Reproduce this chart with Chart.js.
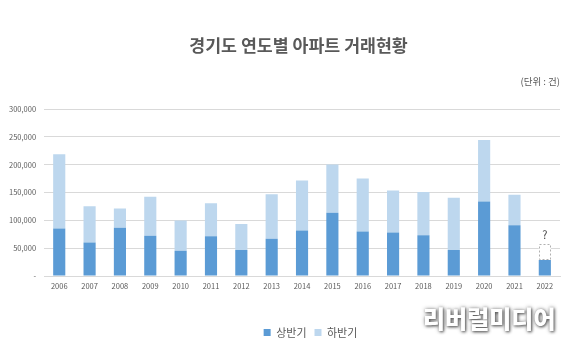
<!DOCTYPE html>
<html>
<head>
<meta charset="utf-8">
<script src="https://cdn.jsdelivr.net/npm/chart.js@4"></script>
<style>
  html, body { margin: 0; padding: 0; background: #fff; }
  #wrap { position: relative; width: 578px; height: 350px; }
  #mark {
    position: absolute; left: 423px; top: 300px;
    font: 900 24px "Noto Sans CJK KR", sans-serif; color: #fff;
    text-shadow: 1px 1px 3px #555, 0 0 4px #999;
  }
</style>
</head>
<body>
<div id="wrap">
  <canvas id="chart" width="578" height="350"></canvas>
  <div id="mark">리버럴미디어</div>
</div>
<script>
const years = ["2006", "2007", "2008", "2009", "2010", "2011", "2012", "2013", "2014",
  "2015", "2016", "2017", "2018", "2019", "2020", "2021", "2022"];
const firstHalf = [85500, 60100, 86700, 72500, 45400, 71300, 46600, 67200, 82000,
  113800, 80200, 78400, 73100, 46600, 133800, 91400, 28900];
const secondHalf = [133200, 65500, 34800, 70200, 54200, 59600, 47100, 79600, 89600,
  86700, 94900, 75500, 77800, 94300, 110900, 54800, 29500];

const FONT = "'Noto Sans CJK KR', 'Liberation Sans', sans-serif";
const last = years.length - 1;

// 2022 하반기 is unknown: dashed outline and a "?" above it
const unknownBar = {
  id: "unknownBar",
  afterLayout(chart) {
    // title and legend sit a bit right of centre in the original
    chart.titleBlock.left += 18;
    chart.titleBlock.right += 18;
    chart.legend.left += 30;
    chart.legend.right += 30;
  },
  afterDatasetsDraw(chart) {
    const bar = chart.getDatasetMeta(1).data[last];
    if (!bar) return;
    const ctx = chart.ctx;
    const w = bar.width;
    ctx.save();
    ctx.strokeStyle = "#b0b0b0";
    ctx.lineWidth = 1;
    ctx.setLineDash([2, 2]);
    ctx.strokeRect(Math.round(bar.x - w / 2) + 0.5, Math.round(bar.y) + 0.5, Math.round(w) - 1, Math.round(bar.base - bar.y) - 1);
    ctx.setLineDash([]);
    ctx.fillStyle = "#404040";
    ctx.font = "11px " + FONT;
    ctx.textAlign = "center";
    ctx.textBaseline = "bottom";
    ctx.fillText("?", bar.x, bar.y - 3);
    ctx.restore();
  }
};

new Chart(document.getElementById("chart"), {
  type: "bar",
  data: {
    labels: years,
    datasets: [
      {
        label: "상반기",
        data: firstHalf,
        backgroundColor: "#5b9bd5",
        barPercentage: 0.4,
        categoryPercentage: 1
      },
      {
        label: "하반기",
        data: secondHalf,
        backgroundColor: secondHalf.map((v, i) => (i === last ? "#ffffff" : "#bdd7ee")),
        barPercentage: 0.4,
        categoryPercentage: 1
      }
    ]
  },
  options: {
    responsive: false,
    animation: false,
    layout: { padding: { left: 1, right: 18, bottom: 2 } },
    plugins: {
      title: {
        display: true,
        text: "경기도 연도별 아파트 거래현황",
        color: "#595959",
        font: { family: FONT, size: 17.3, weight: "600" },
        padding: { top: 35, bottom: 20 }
      },
      subtitle: {
        display: true,
        text: "(단위 : 건)",
        align: "end",
        color: "#595959",
        font: { family: FONT, size: 9.5 },
        padding: { top: 0, bottom: 22 }
      },
      legend: {
        position: "bottom",
        labels: {
          color: "#595959",
          font: { family: FONT, size: 11 },
          usePointStyle: true,
          pointStyle: "rect",
          boxWidth: 7,
          boxHeight: 7,
          padding: 8,
          generateLabels(chart) {
            return chart.data.datasets.map((ds, i) => ({
              text: ds.label,
              fillStyle: i === 0 ? "#5b9bd5" : "#bdd7ee",
              strokeStyle: "transparent",
              lineWidth: 0,
              pointStyle: "rect",
              datasetIndex: i,
              fontColor: "#595959"
            }));
          }
        }
      },
      tooltip: { enabled: false }
    },
    scales: {
      x: {
        stacked: true,
        grid: { display: false, drawTicks: false },
        border: { color: "#d9d9d9" },
        ticks: { color: "#595959", font: { family: FONT, size: 7.5 }, padding: 6, maxRotation: 0 },
        afterFit(scale) {
          scale.height += 22;
        }
      },
      y: {
        stacked: true,
        min: 0,
        max: 300000,
        grid: { color: "#d9d9d9", drawTicks: false },
        border: { display: false },
        ticks: {
          stepSize: 50000,
          color: "#595959",
          font: { family: FONT, size: 7.5 },
          padding: 8,
          callback: (v) => (v === 0 ? "-" : v.toLocaleString("en-US"))
        }
      }
    }
  },
  plugins: [unknownBar]
});
</script>
</body>
</html>
